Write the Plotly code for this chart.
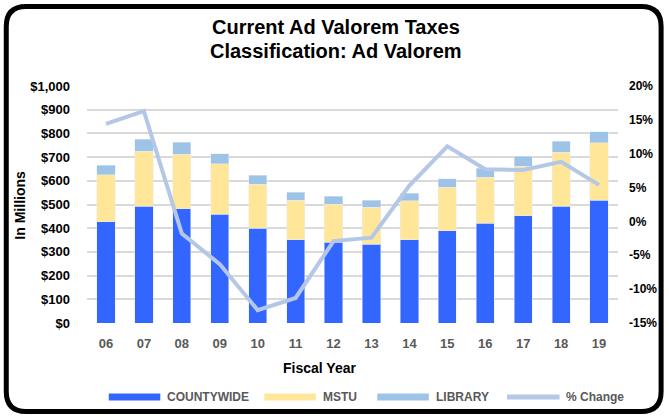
import plotly.graph_objects as go

years = ["06", "07", "08", "09", "10", "11", "12", "13", "14", "15", "16", "17", "18", "19"]
countywide = [428, 493, 483, 458, 399, 352, 341, 333, 351, 389, 420, 452, 492, 519]
mstu = [197, 232, 230, 215, 186, 166, 160, 155, 164, 184, 196, 210, 229, 241]
library = [41, 50, 50, 42, 38, 34, 34, 31, 32, 36, 38, 42, 46, 48]
pct_change = [14.4, 16.3, -1.8, -6.3, -13.1, -11.3, -2.9, -2.4, 5.3, 11.1, 7.7, 7.6, 8.8, 5.4]

left_ticks = [0, 100, 200, 300, 400, 500, 600, 700, 800, 900, 1000]
left_labels = ["$0", "$100", "$200", "$300", "$400", "$500", "$600", "$700", "$800", "$900", "$1,000"]
right_ticks = [-15, -10, -5, 0, 5, 10, 15, 20]
right_labels = ["-15%", "-10%", "-5%", "0%", "5%", "10%", "15%", "20%"]

C_COUNTY = "#3366FF"
C_MSTU = "#FFE699"
C_LIB = "#9DC3E6"
C_LINE = "#B4C7E7"
FONT = "Liberation Sans, Arial, sans-serif"

W, H = 669, 417
L, R, T, B = 87, 623, 86, 323
PW, PH = R - L, B - T


def px(x):
    return (x - L) / PW


def py(y):
    return (B - y) / PH


fig = go.Figure()
fig.add_trace(go.Bar(x=years, y=countywide, name="COUNTYWIDE", marker_color=C_COUNTY))
fig.add_trace(go.Bar(x=years, y=mstu, name="MSTU", marker_color=C_MSTU))
fig.add_trace(go.Bar(x=years, y=library, name="LIBRARY", marker_color=C_LIB))
fig.add_trace(go.Scatter(x=years, y=pct_change, name="% Change", mode="lines",
                         line=dict(color=C_LINE, width=4), yaxis="y2"))

shapes = []
annotations = []

# rounded outer frame
x0, x1, y0, y1, r = 5.5, 666.5, 6.5, 411.5, 20
path = (
    f"M {px(x0 + r)},{py(y0)} L {px(x1 - r)},{py(y0)} "
    f"Q {px(x1)},{py(y0)} {px(x1)},{py(y0 + r)} "
    f"L {px(x1)},{py(y1 - r)} Q {px(x1)},{py(y1)} {px(x1 - r)},{py(y1)} "
    f"L {px(x0 + r)},{py(y1)} Q {px(x0)},{py(y1)} {px(x0)},{py(y1 - r)} "
    f"L {px(x0)},{py(y0 + r)} Q {px(x0)},{py(y0)} {px(x0 + r)},{py(y0)} Z"
)
shapes.append(dict(type="path", path=path, xref="paper", yref="paper",
                   line=dict(color="black", width=5), layer="above"))

# custom legend
ly = 397
legend_items = [
    ("COUNTYWIDE", C_COUNTY, 109, 161, 166, "bar"),
    ("MSTU", C_MSTU, 266, 318, 323, "bar"),
    ("LIBRARY", C_LIB, 380, 432, 437, "bar"),
    ("% Change", C_LINE, 511, 564, 568, "line"),
]
for name, col, sx0, sx1, tx, kind in legend_items:
    if kind == "bar":
        shapes.append(dict(type="rect", xref="paper", yref="paper",
                           x0=px(sx0), x1=px(sx1), y0=py(ly + 3.5), y1=py(ly - 3.5),
                           fillcolor=col, line=dict(width=0)))
    else:
        shapes.append(dict(type="line", xref="paper", yref="paper",
                           x0=px(sx0), x1=px(sx1), y0=py(ly), y1=py(ly),
                           line=dict(color=col, width=5)))
    annotations.append(dict(text=name, xref="paper", yref="paper", x=px(tx), y=py(ly),
                            xanchor="left", yanchor="middle", showarrow=False,
                            font=dict(family=FONT, size=12, color="#595959", weight="bold")))

annotations.append(dict(text="Fiscal Year", xref="paper", yref="paper", x=px(322), y=py(368),
                        xanchor="center", yanchor="middle", showarrow=False,
                        font=dict(family=FONT, size=14, color="black", weight="bold")))
annotations.append(dict(text="In Millions", xref="paper", yref="paper", x=px(19), y=py(205),
                        xanchor="center", yanchor="middle", showarrow=False, textangle=-90,
                        font=dict(family=FONT, size=14, color="black", weight="bold")))
annotations.append(dict(text="Current Ad Valorem Taxes", xref="paper", yref="paper",
                        x=px(338), y=py(27), xanchor="center", yanchor="middle", showarrow=False,
                        font=dict(family=FONT, size=20, color="black", weight="bold")))
annotations.append(dict(text="Classification: Ad Valorem", xref="paper", yref="paper",
                        x=px(338), y=py(51), xanchor="center", yanchor="middle", showarrow=False,
                        font=dict(family=FONT, size=20, color="black", weight="bold")))

fig.update_layout(
    width=W, height=H,
    margin=dict(l=L, r=W - R, t=T, b=H - B),
    paper_bgcolor="white", plot_bgcolor="white",
    barmode="stack", bargap=0.52,
    showlegend=False,
    xaxis=dict(type="category", showgrid=False, showline=False, ticks="", ticklabelstandoff=11,
               tickfont=dict(family=FONT, size=13, color="#595959", weight="bold")),
    yaxis=dict(range=[0, 1000], tickvals=left_ticks, ticktext=left_labels, ticklabelstandoff=16,
               showgrid=True, gridcolor="#D9D9D9", gridwidth=1.5, zeroline=False,
               tickfont=dict(family=FONT, size=13, color="black", weight="bold")),
    yaxis2=dict(range=[-15, 20], tickvals=right_ticks, ticktext=right_labels, overlaying="y",
                side="right", showgrid=False, zeroline=False, ticklabelstandoff=10,
                tickfont=dict(family=FONT, size=12, color="black", weight="bold")),
    shapes=shapes,
    annotations=annotations,
)

fig.write_html("out.html", config={"displayModeBar": False},
               post_script="document.body.style.margin='0';")
